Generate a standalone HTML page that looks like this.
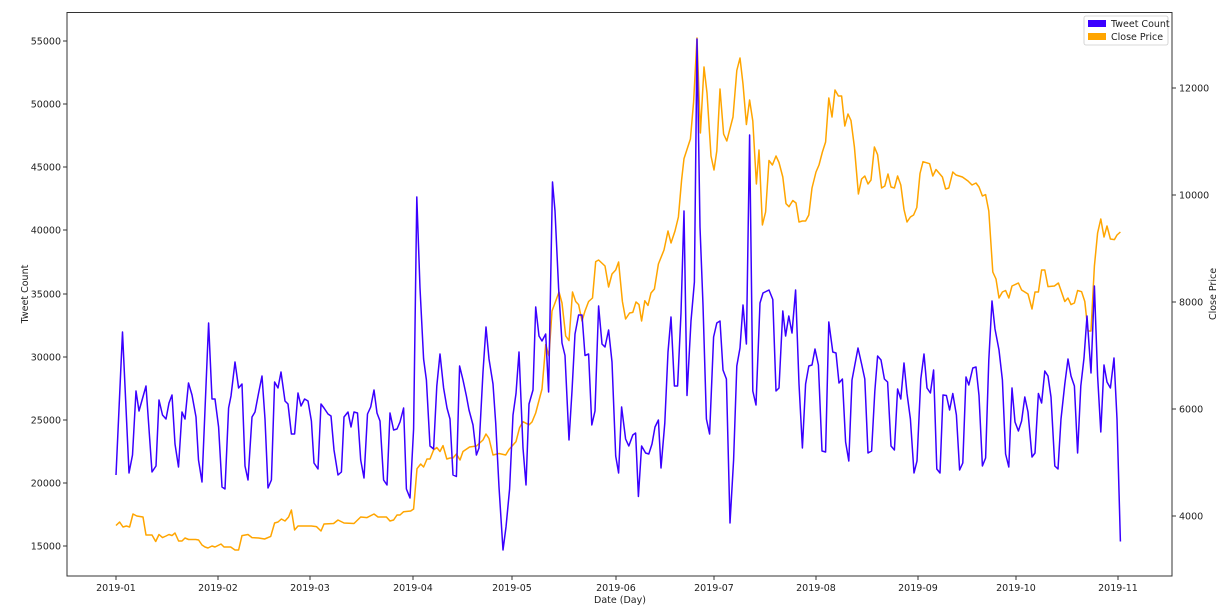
<!DOCTYPE html>
<html><head><style>
html,body{margin:0;padding:0;background:#fff;}
svg{display:block;font-family:"DejaVu Sans","Liberation Sans",sans-serif;}
</style></head><body>
<svg width="1232" height="614" viewBox="0 0 1232 614">
<rect x="0" y="0" width="1232" height="614" fill="#fff"/>
<g font-size="9.5" fill="#222">
<!-- left ticks -->
<g stroke="#333" stroke-width="1">
<line x1="63" y1="41" x2="67" y2="41"/><line x1="63" y1="104" x2="67" y2="104"/><line x1="63" y1="167" x2="67" y2="167"/><line x1="63" y1="230" x2="67" y2="230"/><line x1="63" y1="294" x2="67" y2="294"/><line x1="63" y1="357" x2="67" y2="357"/><line x1="63" y1="420" x2="67" y2="420"/><line x1="63" y1="483" x2="67" y2="483"/><line x1="63" y1="546" x2="67" y2="546"/>
<line x1="1172" y1="88" x2="1176" y2="88"/><line x1="1172" y1="195" x2="1176" y2="195"/><line x1="1172" y1="302" x2="1176" y2="302"/><line x1="1172" y1="409" x2="1176" y2="409"/><line x1="1172" y1="516" x2="1176" y2="516"/>
<line x1="116" y1="576" x2="116" y2="580"/><line x1="218" y1="576" x2="218" y2="580"/><line x1="310" y1="576" x2="310" y2="580"/><line x1="413" y1="576" x2="413" y2="580"/><line x1="512" y1="576" x2="512" y2="580"/><line x1="616" y1="576" x2="616" y2="580"/><line x1="714" y1="576" x2="714" y2="580"/><line x1="816" y1="576" x2="816" y2="580"/><line x1="918" y1="576" x2="918" y2="580"/><line x1="1016" y1="576" x2="1016" y2="580"/><line x1="1118" y1="576" x2="1118" y2="580"/>
</g>
<g text-anchor="end">
<text x="61" y="44.5">55000</text><text x="61" y="107.5">50000</text><text x="61" y="170.5">45000</text><text x="61" y="233.5">40000</text><text x="61" y="297.5">35000</text><text x="61" y="360.5">30000</text><text x="61" y="423.5">25000</text><text x="61" y="486.5">20000</text><text x="61" y="549.5">15000</text>
</g>
<g text-anchor="start">
<text x="1179" y="91.5">12000</text><text x="1179" y="198.5">10000</text><text x="1179" y="305.5">8000</text><text x="1179" y="412.5">6000</text><text x="1179" y="519.5">4000</text>
</g>
<g text-anchor="middle">
<text x="116" y="591">2019-01</text><text x="218" y="591">2019-02</text><text x="310" y="591">2019-03</text><text x="413" y="591">2019-04</text><text x="512" y="591">2019-05</text><text x="616" y="591">2019-06</text><text x="714" y="591">2019-07</text><text x="816" y="591">2019-08</text><text x="918" y="591">2019-09</text><text x="1016" y="591">2019-10</text><text x="1118" y="591">2019-11</text>
<text x="620" y="603">Date (Day)</text>
<text transform="translate(28,294) rotate(-90)">Tweet Count</text>
<text transform="translate(1216,294) rotate(-90)">Close Price</text>
</g>
</g>
<polyline fill="none" stroke="#ffa500" stroke-width="1.5" stroke-linejoin="round" points="116,525.5 119.6,522 123,527 126.4,526 129.6,527 133,514 136.8,516 143,517 146,535 152,535 155.7,541.5 159,534.5 162.5,537.6 166,536 169,534.5 172,535.6 175,533 178.6,541 182,541 185,538 188.6,539.5 195.7,539.5 198.6,540 202,545 205,547 208,548 212,546 215,547 221,544 224,547 230.7,547 235,550 238.6,550 242,535.6 248,534.5 252,537.6 258.6,538 264.6,539 270.7,536.4 274.6,523 278,522 281.4,519 285,521 288.6,517 291.4,510 294.6,530 298,526 311.4,526 316.4,526.6 321,531 324,524 333.6,523.5 338,520 344,523 354,523.5 360.7,517 367,517.6 374,514 378,517 386.4,517 390,521 393.6,520 397,515 400,515 403.6,511.7 410.7,511 413.6,509 417,468.7 420.7,464 423.6,467 427,459 430,459 433.6,450 436.8,447.5 440,451.5 443,445.6 446.8,459 450,458 453,458 456.4,454 460,460 463,451.5 469.6,447 476.4,446 483,440 486,434 489,438.5 493,455 499,453.5 505.7,455 509,449.5 516,441.6 519.6,427.6 523,421.7 529,424.8 532,422 535.7,413 542,389 545.7,344.6 549,356 552,311 555,303 559,292 562,303 565.7,336 569,340.6 572.5,292 575.7,301.5 578.6,304.6 582,321 585,311 588.6,301.5 592.5,298 595.7,261.6 598.6,260 605,266 608.6,287 612,274 615.7,270 618.6,262 622.4,301.5 625.6,319 629.6,313 632.8,312.4 636,302 639,304.6 641.6,321 644.8,300.7 648,305.4 651,293 654.4,289 658.4,264 664,250 668,231 671,243 675,231 678.4,217 681.6,180 684,158.6 690.4,139 693.6,102 697,38 700.4,133 704,67 707,93 711,156 714,170 716.8,151 720,89 723.6,134 726.8,141 733,117 736.8,70.5 740,58 743,84 746.4,124.5 749.6,100 752.8,121 756.4,184 759,150 762.4,225 765.6,212 769,160.5 772.4,165 776,156 779,162.5 782.8,177 786,203.6 789,206.7 792.8,200.5 796,203 799,222 802.4,221 805.6,221 808.8,215 812,188 816,172 819,165 822.4,152 825.6,142 828.8,98 832,117 835,90 838.4,96 841.6,96 844.8,126 848,114 851,120.6 854.4,147 858.4,194 861.6,179 864.8,176 868,184 871,180 874.4,147 877.6,154.7 881.6,188 884.8,186 888,174 891,187 894.4,188 897.6,176 900.8,185 904,209.5 907,222 910.4,217 913.6,215 916.8,207.5 920,173.5 923,161.7 929.6,163.7 932.8,176 936,169.5 942.4,177 945.6,189 948.8,188 952.8,172 956,175 962.4,177 968,181 972,185 976,183 979,187 982.4,196 985.6,194.6 988.8,211 992.8,272 996,279 999,298 1002.4,292 1005.6,290.5 1008.8,298 1012,286 1018.4,283 1021.6,290 1028,294 1032,309 1035,292 1038.4,292 1041.6,270 1044.8,270 1048,286.6 1054.4,286 1058.4,283 1064.8,301.5 1068,298 1071,304.6 1074.4,303 1077.6,290.5 1081.6,291.7 1084.8,301.5 1088,331 1091,331 1094.4,266 1097.6,233 1100.8,219 1104,237 1107,226 1110.4,239 1114.4,239.6 1117,235 1120.4,232"/>
<polyline fill="none" stroke="#3a00ff" stroke-width="1.5" stroke-linejoin="round" points="116,475 122.5,332 129,473 132.5,455 136,391 139,411 146,386 152,472 156,466 159,400 162.5,415 166,419 169,403 172,395 175,444 178.5,467 182,412 185,419 188.5,383 192,395 196,417 198.5,460 202,482 208.6,323 212,399 215,399 218.6,427 222,487 225,489 228.6,408 231,396 235,362 238.6,388 242,384 245,466 248,480 252,417 255,412 258.6,393 262,376 265,419 268,488 271.4,480 274.6,382 278,388 281,372 285,401 288,404 291.4,434 294.6,434 298,393 301,406 304.6,399 308,401 311.4,421 314,463 318,469 321,404 324,408 328,414 331,416 334,450 338,475 341.4,472 344,417 348,412 351,427 354,412 357.5,413 360.7,460 364,478 367.5,414 370.7,407 374,390 377,413 380,421 383.6,480 387,485 390,413 393.6,430 397,429 400,422 403.6,408 406.4,489 410,498 413.6,429 416.8,197 420,288 423.6,359 426.4,380 430,446 433.6,449 436.8,386 440,354 443.6,388 447,408 450,419 453,475 456.4,476.5 459.6,366 463,380 466.4,396 469,410 473,425 476.4,455 479,448 483,372 486,327 489,359 493,384 495.7,423 499,487 503,550 506,527 509.6,489 513,415 516,393.5 519,352 523,448 526,485 529,404 533,390 535.7,307 539,336 542,341 545.7,334 548.6,392 552.5,182 555,211 558.6,288 562,343 565,355.5 569,440 572,391 575,334 578.6,315 582,315 585,355.5 588.6,354 591.8,425 595,411 598.6,306 602,344 605,347 608.6,330 612,362 615.7,456 618.6,473 621.6,407 625.6,439 628.8,446 632.8,435 635.6,433 638.4,496.5 641.6,446 645.6,453 648.8,454 652,444 655,427 658.4,420 661,468 664.8,423 668,352 671,317 674.4,386 677.6,386 681,313 684,211 687,395.5 691,321 694.4,282 697,39 700,227 703,305 706.4,419 709.6,434 713.6,337 716.8,323 720,321 723,370 726.4,379 730,523 733.6,460 736.8,366 740,348 743,305 746.4,344 749.6,135 752.8,391 756,405 760,303 763,293 769,290 772.8,299.5 776,391 779,388 782.8,311 785.6,336 788.8,316 792,333 795.6,290 799,384 802.4,448 805.6,384 808.8,366 812,365 815,349 818.4,365 822,451 825.6,452 828.8,322 832.8,352 836,353 839,383 842.4,379 845.6,442 848.8,461 852,380 858,348 861.6,364 864.8,379 868,453 871.6,451 874.8,391.5 877.6,356 881,360 884.4,379 887.6,382 891,446 894.4,450 897.6,389 900.8,399 904,363 907,393.5 910.4,419 914,473 917,461 920.8,379 924,354 927,388 930.4,393 933.6,370 936.8,469 940,473 943,395 946.4,395.5 949.6,410 952.8,393.5 956.4,415 959.6,470 962.8,463 966,377 968.8,385 972.8,368 976,367 979,395.5 982.4,466 985.6,458 988.8,360 992,301 995,329 999,350 1002.4,380 1005.6,454 1008.8,467 1012,388 1015,422 1018.4,431 1021.6,421 1024.8,397 1028,412 1032,457 1035,453 1038.4,393.5 1041.6,403 1044.8,371 1048,376 1051,397 1054.8,466 1058,469 1061,419 1064.8,384 1068,359 1071,376 1074.4,386 1077.6,453 1080.8,386 1084,358 1087,316 1091,373 1094.4,286 1097.6,376 1100.8,432 1104,365 1107,382 1110.4,388 1114,358 1117,419 1120.4,541.5"/>
<rect x="67" y="12.5" width="1105" height="563.5" fill="none" stroke="#333" stroke-width="1"/>
<g>
<rect x="1084" y="16" width="84" height="29" fill="#fff" stroke="#ccc" stroke-width="0.8" rx="2"/>
<rect x="1088" y="20" width="18" height="7" fill="#3a00ff"/>
<rect x="1088" y="33" width="18" height="7" fill="#ffa500"/>
<text x="1111" y="27" font-size="9.5" fill="#222">Tweet Count</text>
<text x="1111" y="40" font-size="9.5" fill="#222">Close Price</text>
</g>
</svg>
</body></html>
